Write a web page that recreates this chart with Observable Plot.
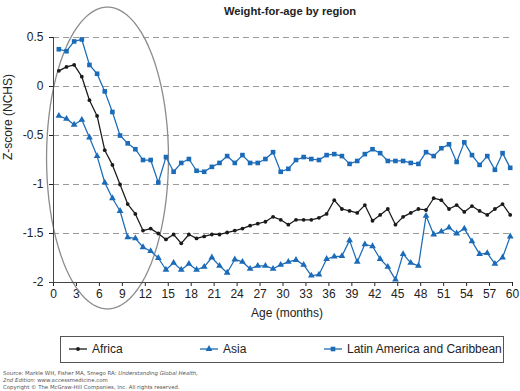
<!DOCTYPE html>
<html><head><meta charset="utf-8">
<script src="https://cdn.jsdelivr.net/npm/d3@7"></script>
<script src="https://cdn.jsdelivr.net/npm/@observablehq/plot@0.6"></script>
<style>
html,body{margin:0;padding:0;background:#fff;}
#wrap{position:relative;width:520px;height:391px;overflow:hidden;font-family:"Liberation Sans",Arial,sans-serif;color:#222;}
#title{position:absolute;top:5px;left:0;width:580px;text-align:center;font-weight:bold;font-size:11.2px;}
#plot{position:absolute;top:0;left:0;}
#legend{position:absolute;top:336px;left:60px;width:442px;height:25px;border:1px solid #555;box-sizing:content-box;font-size:12px;}
.item{position:absolute;top:5px;display:flex;align-items:center;white-space:nowrap;}
.item svg{margin-right:5px;}
#foot{position:absolute;top:370px;left:3px;font-family:"DejaVu Sans",Verdana,sans-serif;font-size:5.4px;color:#555;line-height:6.5px;white-space:nowrap;}
</style></head>
<body>
<div id="wrap">
  <div id="title">Weight-for-age by region</div>
  <div id="plot"></div>
  <div id="legend"></div>
  <div id="foot">Source: Markle WH, Fisher MA, Smego RA: <i>Understanding Global Health,</i><br><i>2nd Edition:</i> www.accessmedicine.com<br><span style="position:relative;top:1px">Copyright © The McGraw-Hill Companies, Inc. All rights reserved.</span></div>
</div>
<script>
const ages = [0.7,1.7,2.7,3.7,4.7,5.7,6.7,7.7,8.7,9.7,10.7,11.7,12.7,13.7,14.7,15.7,16.7,17.7,18.7,19.7,
  20.7,21.7,22.7,23.7,24.7,25.7,26.7,27.7,28.7,29.7,30.7,31.7,32.7,33.7,34.7,35.7,36.7,37.7,38.7,39.7,
  40.7,41.7,42.7,43.7,44.7,45.7,46.7,47.7,48.7,49.7,50.7,51.7,52.7,53.7,54.7,55.7,56.7,57.7,58.7,59.7];
const africa = [0.16,0.20,0.22,0.10,-0.14,-0.30,-0.65,-0.80,-1.00,-1.20,
  -1.30,-1.47,-1.45,-1.50,-1.56,-1.51,-1.60,-1.51,-1.55,-1.53,
  -1.51,-1.51,-1.49,-1.47,-1.45,-1.42,-1.40,-1.38,-1.33,-1.36,
  -1.41,-1.36,-1.36,-1.36,-1.34,-1.30,-1.16,-1.25,-1.27,-1.29,
  -1.21,-1.37,-1.31,-1.25,-1.41,-1.33,-1.29,-1.25,-1.26,-1.14,
  -1.16,-1.25,-1.21,-1.28,-1.22,-1.27,-1.31,-1.25,-1.20,-1.31];
const asia = [-0.30,-0.33,-0.39,-0.34,-0.52,-0.71,-0.98,-1.14,-1.27,-1.54,
  -1.55,-1.64,-1.68,-1.75,-1.87,-1.80,-1.87,-1.81,-1.87,-1.84,
  -1.745,-1.83,-1.90,-1.765,-1.79,-1.86,-1.83,-1.83,-1.86,-1.82,
  -1.79,-1.77,-1.82,-1.93,-1.92,-1.76,-1.735,-1.73,-1.57,-1.79,
  -1.61,-1.63,-1.76,-1.84,-1.97,-1.71,-1.80,-1.83,-1.32,-1.51,
  -1.48,-1.44,-1.50,-1.45,-1.58,-1.71,-1.70,-1.81,-1.745,-1.53];
const latin = [0.38,0.36,0.46,0.48,0.22,0.13,-0.05,-0.26,-0.50,-0.58,
  -0.64,-0.75,-0.75,-0.98,-0.72,-0.87,-0.78,-0.74,-0.86,-0.87,
  -0.82,-0.78,-0.71,-0.78,-0.70,-0.78,-0.78,-0.74,-0.67,-0.87,
  -0.84,-0.75,-0.72,-0.74,-0.75,-0.70,-0.69,-0.71,-0.79,-0.76,
  -0.69,-0.64,-0.68,-0.76,-0.76,-0.76,-0.78,-0.79,-0.67,-0.71,
  -0.63,-0.59,-0.77,-0.57,-0.70,-0.80,-0.71,-0.85,-0.68,-0.83];
const seriesNames = ["Africa","Asia","Latin America and Caribbean"];
const xTicks = [0,3,6,9,12,15,18,21,24,27,30,33,36,39,42,45,48,51,54,57,60];
const yTicks = [0.5,0,-0.5,-1,-1.5,-2];
const gridValues = [0.5,0,-0.5,-1,-1.5];
// highlight ellipse (data units): centre, radii
const ellipse = {cx: 7.06, cy: -0.73, rx: 7.97, ry: 1.54};

const BLACK = "#1a1a1a", BLUE = "#1b6bb8";
const styles = [
  {name: seriesNames[0], values: africa, color: BLACK, symbol: "circle", r: 1.9},
  {name: seriesNames[1], values: asia, color: BLUE, symbol: "triangle", r: 2.5},
  {name: seriesNames[2], values: latin, color: BLUE, symbol: "square", r: 2.6}
];
const rows = styles.flatMap(s => s.values.map((v, i) => ({series: s.name, age: ages[i], z: v})));
const ellPts = d3.range(0, 361, 4).map(a => {
  const t = a * Math.PI / 180;
  return {x: ellipse.cx + ellipse.rx * Math.cos(t), y: ellipse.cy + ellipse.ry * Math.sin(t)};
});

const marks = [
  Plot.ruleY(gridValues, {stroke: "#9a9a9a", strokeWidth: 1, strokeDasharray: "6,4"}),
  Plot.line(ellPts, {x: "x", y: "y", stroke: "#8c8c8c", strokeWidth: 1.3}),
  Plot.ruleX([0], {stroke: "#444", strokeWidth: 1}),
  Plot.ruleY([-2], {stroke: "#444", strokeWidth: 1, x1: -0.4, x2: 60}),
];
for (const s of styles) {
  const d = rows.filter(r => r.series === s.name);
  marks.push(Plot.line(d, {x: "age", y: "z", stroke: s.color, strokeWidth: 1.25}));
  marks.push(Plot.dot(d, {x: "age", y: "z", fill: s.color, stroke: "none", symbol: () => s.symbol, r: s.r}));
}
marks.push(Plot.text(["Z-score (NCHS)"], {frameAnchor: "left", dx: -45, rotate: -90, fontSize: 12, fill: "#222"}));
marks.push(Plot.text(["Age (months)"], {frameAnchor: "bottom", dx: 4, dy: 34, fontSize: 12, fill: "#222"}));

const chart = Plot.plot({
  width: 520, height: 330,
  marginLeft: 53, marginRight: 8, marginTop: 37, marginBottom: 48,
  style: {fontFamily: "Liberation Sans, Arial, sans-serif", fontSize: "12px", color: "#222", background: "transparent"},
  x: {domain: [0, 60], ticks: xTicks, tickSize: 4, tickPadding: 3, tickFormat: d => String(d), label: null},
  y: {domain: [-2, 0.5], ticks: yTicks, tickSize: 4, tickPadding: 6, tickFormat: d => String(d), label: null},
  symbol: {type: "identity"},
  marks
});
document.getElementById("plot").appendChild(chart);

// legend
const legend = document.getElementById("legend");
const lefts = [8, 139, 263];
styles.forEach((s, i) => {
  const item = document.createElement("div");
  item.className = "item";
  item.style.left = lefts[i] + "px";
  const sw = d3.create("svg").attr("width", 18).attr("height", 14);
  sw.append("line").attr("x1", 0).attr("x2", 18).attr("y1", 7).attr("y2", 7).attr("stroke", s.color).attr("stroke-width", 1.3);
  sw.append("path").attr("transform", "translate(9,7)")
    .attr("d", d3.symbol(s.symbol === "circle" ? d3.symbolCircle : s.symbol === "triangle" ? d3.symbolTriangle : d3.symbolSquare, Math.PI * s.r * s.r)())
    .attr("fill", s.color);
  item.appendChild(sw.node());
  const label = document.createElement("span");
  label.textContent = s.name;
  item.appendChild(label);
  legend.appendChild(item);
});
</script>
</body></html>
